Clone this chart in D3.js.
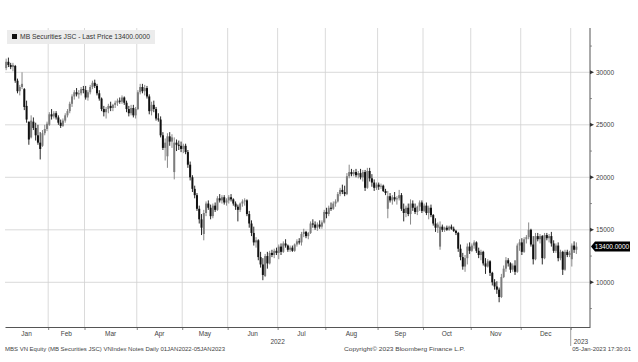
<!DOCTYPE html>
<html>
<head>
<meta charset="utf-8">
<script src="https://cdn.jsdelivr.net/npm/d3@7"></script>
<style>
    html, body { margin: 0; padding: 0; background: #fff; }
    svg { display: block; font-family: "Liberation Sans", Arial, sans-serif; }
</style>
</head>
<body>
<svg id="chart" width="638" height="362"></svg>
<script>
// daily bars: [open, high, low, close]
const jan22 = [
    [30400,31300,30200,31000],[31000,31400,30500,30700],[30700,30900,30300,30500],[30500,30900,30100,30700],
    [30600,30700,29000,29200],[29200,29400,28000,28200],[28200,28800,27800,28600],[28600,30000,28400,28900],
    [28400,28500,26400,26700],[26800,27300,25200,25500],[25300,25300,23100,23600],[23800,25900,23700,25400],
    [25300,25700,24500,24700],[24700,25200,23500,24000],[24000,25000,23100,23300],[23300,24300,21700,22700],
    [23000,24500,22900,24200],[24200,25000,24000,24600],[24600,25300,24400,25100]
];
const feb22 = [
    [25000,26200,24900,26000],[26000,26500,25500,25800],[25800,26300,25600,26100],[26100,26300,25500,25700],
    [25700,25900,25000,25200],[25200,25500,24700,24900],[24900,25600,24800,25400],[25400,26100,25200,25900],
    [25900,26500,25700,26300],[26300,27200,26100,27000],[27000,27900,26700,27700],[27700,28300,27400,28100],
    [28100,28500,27700,27900],[27900,28300,27500,28000],[28000,28600,27800,28400],[28400,28700,28000,28300]
];
const mar22 = [
    [28300,28700,27400,27600],[27600,28300,27300,28100],[28100,28800,27900,28600],[28600,29200,28400,29000],
    [29000,29300,28500,28700],[28700,28900,27800,28000],[28000,28300,27300,27500],[27500,27600,26300,26500],
    [26500,26800,25800,26200],[26200,26700,25600,26500],[26500,27000,26100,26800],[26800,27200,26300,26600],
    [26600,27000,26300,26900],[26900,27300,26600,27100],[27100,27500,26800,27300],[27300,27600,27000,27200],
    [27200,27800,27000,27600],[27600,27700,26900,27100],[27100,27300,26200,26500],[26500,26800,25800,26100],
    [26100,26900,25900,26600],[26600,26900,25700,25900],[25900,26700,25600,26500]
];
const apr22 = [
    [26500,28300,26400,28100],[28100,28900,27900,28600],[28600,28900,28000,28200],[28200,28800,27800,28500],
    [28500,28700,27500,27700],[27700,27900,26000,26300],[26300,27200,25900,26900],[26900,27300,26200,26500],
    [26500,26700,25400,25600],[25600,26100,25300,25500],[25500,25800,23800,24000],[24000,24300,22600,22800],
    [22800,23700,21600,23300],[22000,24200,20900,23900],[23900,24300,23000,23400],[23400,24100,22800,23800],
    [20500,23800,19800,23300],[23300,23600,22500,23100],[23100,23500,22600,23000],[23000,23400,22400,22700]
];
const may22 = [
    [22700,23200,22300,23000],[23000,23200,22200,22400],[22400,22600,20900,21200],[21200,21500,19700,20000],
    [20000,20200,18600,18900],[18900,19200,18000,18300],[18300,18500,16800,17000],[17000,17300,15600,16000],
    [16000,16500,14500,15200],[14600,16900,14000,16600],[16600,17700,16300,17500],[17500,17800,16900,17100],
    [17100,17400,16000,16300],[16300,17500,16100,17300],[17300,17600,16700,16900],[16900,18200,16800,18000],
    [18000,18400,17600,17800],[17800,18300,17500,18100],[18100,18300,17400,17600],[17600,18000,17300,17800]
];
const jun22 = [
    [17800,18300,17500,18100],[18100,18400,17700,17900],[17900,18000,17300,17500],[17500,17700,16900,17200],
    [17200,17400,15800,16900],[16900,17600,16700,17500],[17500,17900,17200,17700],[17700,18000,17300,17800],
    [17800,17900,16300,16500],[16500,16800,15200,15600],[15600,15900,14400,14700],[14700,15300,13500,13800],
    [13800,14300,13300,14000],[14000,14100,12100,12400],[12400,12900,11400,11700],[11700,12300,10200,10700],
    [10600,12700,10500,12500],[12500,12900,11300,11800],[11800,13000,11700,12800],[12800,13100,12400,12600],
    [12600,13200,12300,13000],[13000,13300,12600,12800]
];
const jul22 = [
    [12800,13600,12200,13400],[13400,13700,12600,12900],[12900,13900,12800,13700],[13700,14100,13300,13500],
    [13500,13600,12900,13100],[13100,13500,12900,13300],[13300,13500,12900,13000],[13000,13700,12900,13600],
    [13600,14100,13400,13900],[13900,14200,13600,13800],[13800,14800,13500,14600],[14600,15100,14300,14800],
    [14800,14900,14200,14400],[14400,14800,14100,14700],[14700,15800,14600,15600],[15600,16000,15200,15500],
    [15500,15800,15000,15200],[15200,15700,14900,15500],[15500,15900,15100,15300],[15300,15900,15100,15700],
    [15700,16900,15600,16700]
];
const aug22 = [
    [16700,17100,16100,16500],[16500,17300,16300,17100],[17100,17600,16800,17000],[17000,17700,16900,17500],
    [17500,17900,17200,17700],[17700,18600,17600,18400],[18400,19000,18200,18800],[18800,19300,18400,18600],
    [18600,19200,18200,18400],[18400,20400,18300,20100],[20100,21200,19900,20500],[20500,20800,20100,20300],
    [20300,20700,20100,20500],[20500,20800,20000,20200],[20200,20600,19900,20400],[20400,20800,19800,20000],
    [20000,20700,19600,20500],[20500,20700,18700,19000],[19000,20900,18900,20600],[20600,20900,19600,19900],
    [19900,20300,19100,19500],[19500,19800,18700,19000],[19000,19500,18800,19300]
];
const sep22 = [
    [19300,19500,18800,19100],[19100,19400,18900,19200],[19200,19300,18600,18700],[18700,18900,18300,18500],
    [17000,18700,16100,18200],[18200,18500,17600,17800],[17800,18300,17400,18100],[18100,18600,17700,17900],
    [17900,18200,17400,18000],[18000,18800,17800,18300],[18300,18500,16800,17000],[17000,17500,15800,16600],
    [16600,17300,16200,17100],[17100,17500,16300,16500],[16500,17900,15500,17500],[17500,17800,16800,17100],
    [17100,17500,16500,16700],[16700,17300,16400,17200],[17200,17800,16800,17600],[17600,17800,16600,16800]
];
const oct22 = [
    [16800,17500,16700,17300],[17300,17600,16400,16600],[16600,17300,16000,17100],[17100,17400,16200,16400],
    [16400,16500,15400,15600],[15600,16100,14800,15200],[15200,15700,14700,15500],[13400,15800,13100,15300],
    [15300,15500,14800,15000],[15000,15300,14800,15200],[15200,15400,14900,15000],[15000,15400,14900,15300],
    [15300,15500,15000,15100],[15100,15300,14800,14900],[14900,15000,14500,14700],[14700,14800,12900,13200],
    [13200,13600,12100,12400],[12400,12800,11200,11500],[11500,12600,11000,12300],[12300,13700,11700,13400],
    [13400,13800,12700,13000]
];
const nov22 = [
    [13000,13700,12900,13500],[13500,14000,13200,13800],[13800,13900,12800,13000],[13000,13300,12300,12600],
    [12600,13100,12100,12900],[12900,13000,11600,11800],[11800,12300,10800,11500],[11500,12200,11400,12000],
    [12000,12100,10600,10900],[10900,11000,9700,10000],[10000,10300,9300,9600],[9600,10100,8900,9300],
    [9300,9500,8100,8600],[8600,10800,8500,10500],[10500,11600,10400,11300],[11300,12400,11000,12100],
    [12100,12300,11500,11800],[11800,11900,10900,11200],[11200,11800,11000,11600],[11600,12100,10700,11000],
    [11000,13700,10900,13500],[13500,14100,13000,13800]
];
const dec22 = [
    [13800,14200,12600,12900],[12900,14300,12800,14100],[14100,14500,13700,14300],[14300,15700,14100,15000],
    [15000,15100,13400,13600],[13600,14400,11700,12200],[12200,14700,12100,14400],[14400,14700,13900,14100],
    [14100,14600,13700,14400],[14400,14500,11700,12300],[12300,14700,12200,14500],[14500,14700,14000,14200],
    [14200,14600,13800,14400],[14400,14800,13400,13700],[13700,14000,12800,13000],[13000,13700,12800,13500],
    [13500,13800,12000,12300],[12300,13100,12100,12900],[12900,13000,10700,11200],[11200,13100,11100,12900],
    [12900,13100,12400,12600],[12600,13000,12400,12800]
];
const jan23 = [
    [12200,13700,11500,13500],[13500,13900,12800,13100],[13100,13800,12700,13400]
];

const monthLabels = ["Jan", "Feb", "Mar", "Apr", "May", "Jun", "Jul", "Aug", "Sep", "Oct", "Nov", "Dec"];
const yTicks = [10000, 15000, 20000, 25000, 30000];
const yMinorTicks = [7500, 12500, 17500, 22500, 27500, 32500];
const lastPrice = 13400;

const months = [jan22, feb22, mar22, apr22, may22, jun22, jul22, aug22, sep22, oct22, nov22, dec22, jan23];
const bars = months.flat();
const monthStart = [];
let k = 0;
months.forEach(m => { monthStart.push(k); k += m.length; });

const svg = d3.select("#chart");
const plotLeft = 5, plotRight = 590, plotTop = 28, plotBottom = 327;

const x = d3.scaleLinear().domain([0, 257.5]).range([plotLeft, plotRight]);
const y = d3.scaleLinear().domain([10000, 30000]).range([282.3, 72.3]);

// === grid ===
const grid = svg.append("g").attr("stroke", "#d0d0d0").attr("stroke-width", 0.8);
grid.selectAll("line.h").data(yTicks).join("line")
    .attr("x1", plotLeft).attr("x2", plotRight)
    .attr("y1", d => y(d)).attr("y2", d => y(d));
grid.selectAll("line.v").data(monthStart.slice(1)).join("line")
    .attr("x1", d => x(d)).attr("x2", d => x(d))
    .attr("y1", plotTop).attr("y2", plotBottom);

// === candles ===
const up = "#7c7c7c", down = "#111";
const candles = svg.append("g");
candles.selectAll("line").data(bars).join("line")
    .attr("x1", (d, i) => x(i + 0.5)).attr("x2", (d, i) => x(i + 0.5))
    .attr("y1", d => y(d[1])).attr("y2", d => y(d[2]))
    .attr("stroke", d => d[3] >= d[0] ? up : down)
    .attr("stroke-width", 0.9);
candles.selectAll("rect").data(bars).join("rect")
    .attr("x", (d, i) => x(i + 0.5) - 1)
    .attr("width", 2)
    .attr("y", d => y(Math.max(d[0], d[3])))
    .attr("height", d => Math.max(1, Math.abs(y(d[0]) - y(d[3]))))
    .attr("fill", d => d[3] >= d[0] ? up : down);

// === right axis ===
svg.append("line")
    .attr("x1", plotRight).attr("x2", plotRight)
    .attr("y1", plotTop).attr("y2", plotBottom)
    .attr("stroke", "#555").attr("stroke-width", 1);
svg.append("g").selectAll("line").data(yMinorTicks).join("line")
    .attr("x1", plotRight).attr("x2", plotRight + 2)
    .attr("y1", d => y(d)).attr("y2", d => y(d))
    .attr("stroke", "#666").attr("stroke-width", 0.7);
const yAx = svg.append("g");
yAx.selectAll("path").data(yTicks).join("path")
    .attr("d", d => `M${plotRight},${y(d) - 2}L${plotRight + 4},${y(d)}L${plotRight},${y(d) + 2}Z`)
    .attr("fill", "#333");
yAx.selectAll("text").data(yTicks).join("text")
    .attr("x", plotRight + 6).attr("y", d => y(d))
    .attr("dy", "0.35em")
    .style("font-size", "6.5px").attr("fill", "#444")
    .text(d => d);

// === bottom axis ===
const xAx = svg.append("g").attr("transform", `translate(0,${plotBottom})`)
    .call(d3.axisBottom(x).tickValues(monthStart.slice(1)).tickSize(3).tickSizeOuter(0).tickFormat(""));
xAx.select(".domain").attr("stroke", "#555");
xAx.selectAll(".tick line").attr("stroke", "#555").attr("stroke-width", 0.7);

svg.append("g").selectAll("text").data(monthLabels).join("text")
    .attr("x", (d, i) => x((monthStart[i] + monthStart[i + 1]) / 2))
    .attr("y", 336)
    .attr("text-anchor", "middle")
    .style("font-size", "6.5px").attr("fill", "#444")
    .text(d => d);

svg.append("text").attr("x", x(monthStart[6])).attr("y", 344)
    .attr("text-anchor", "middle").style("font-size", "6.5px").attr("fill", "#444").text("2022");
svg.append("line")
    .attr("x1", x(monthStart[12])).attr("x2", x(monthStart[12]))
    .attr("y1", plotBottom).attr("y2", 346)
    .attr("stroke", "#777").attr("stroke-width", 0.7);
svg.append("text").attr("x", x(monthStart[12]) + 3).attr("y", 344)
    .style("font-size", "6.5px").attr("fill", "#444").text("2023");

// === legend ===
svg.append("rect").attr("x", 7).attr("y", 30).attr("width", 148).attr("height", 14).attr("fill", "#ececec");
svg.append("rect").attr("x", 12).attr("y", 34).attr("width", 5).attr("height", 5).attr("fill", "#111");
svg.append("text").attr("x", 20).attr("y", 39.3)
    .style("font-size", "7px").attr("fill", "#333")
    .attr("textLength", 130).attr("lengthAdjust", "spacingAndGlyphs")
    .text("MB Securities JSC - Last Price 13400.0000");

// === last price tag ===
const yl = y(lastPrice);
svg.append("path")
    .attr("d", `M${plotRight + 1},${yl}L${plotRight + 5},${yl - 5}L630,${yl - 5}L630,${yl + 5}L${plotRight + 5},${yl + 5}Z`)
    .attr("fill", "#000");
svg.append("text").attr("x", 612).attr("y", yl).attr("dy", "0.35em")
    .attr("text-anchor", "middle")
    .style("font-size", "6.5px").attr("fill", "#fff")
    .text("13400.0000");

// === footer ===
const foot = svg.append("g").style("font-size", "6px").attr("fill", "#444");
foot.append("text").attr("x", 5).attr("y", 351)
    .attr("textLength", 220).attr("lengthAdjust", "spacingAndGlyphs")
    .text("MBS VN Equity (MB Securities JSC) VNIndex Notes  Daily 01JAN2022-05JAN2023");
foot.append("text").attr("x", 344).attr("y", 351)
    .attr("textLength", 121).attr("lengthAdjust", "spacingAndGlyphs")
    .text("Copyright\u00A9 2023 Bloomberg Finance L.P.");
foot.append("text").attr("x", 631).attr("y", 351)
    .attr("text-anchor", "end")
    .text("05-Jan-2023 17:30:01");
</script>
</body>
</html>
